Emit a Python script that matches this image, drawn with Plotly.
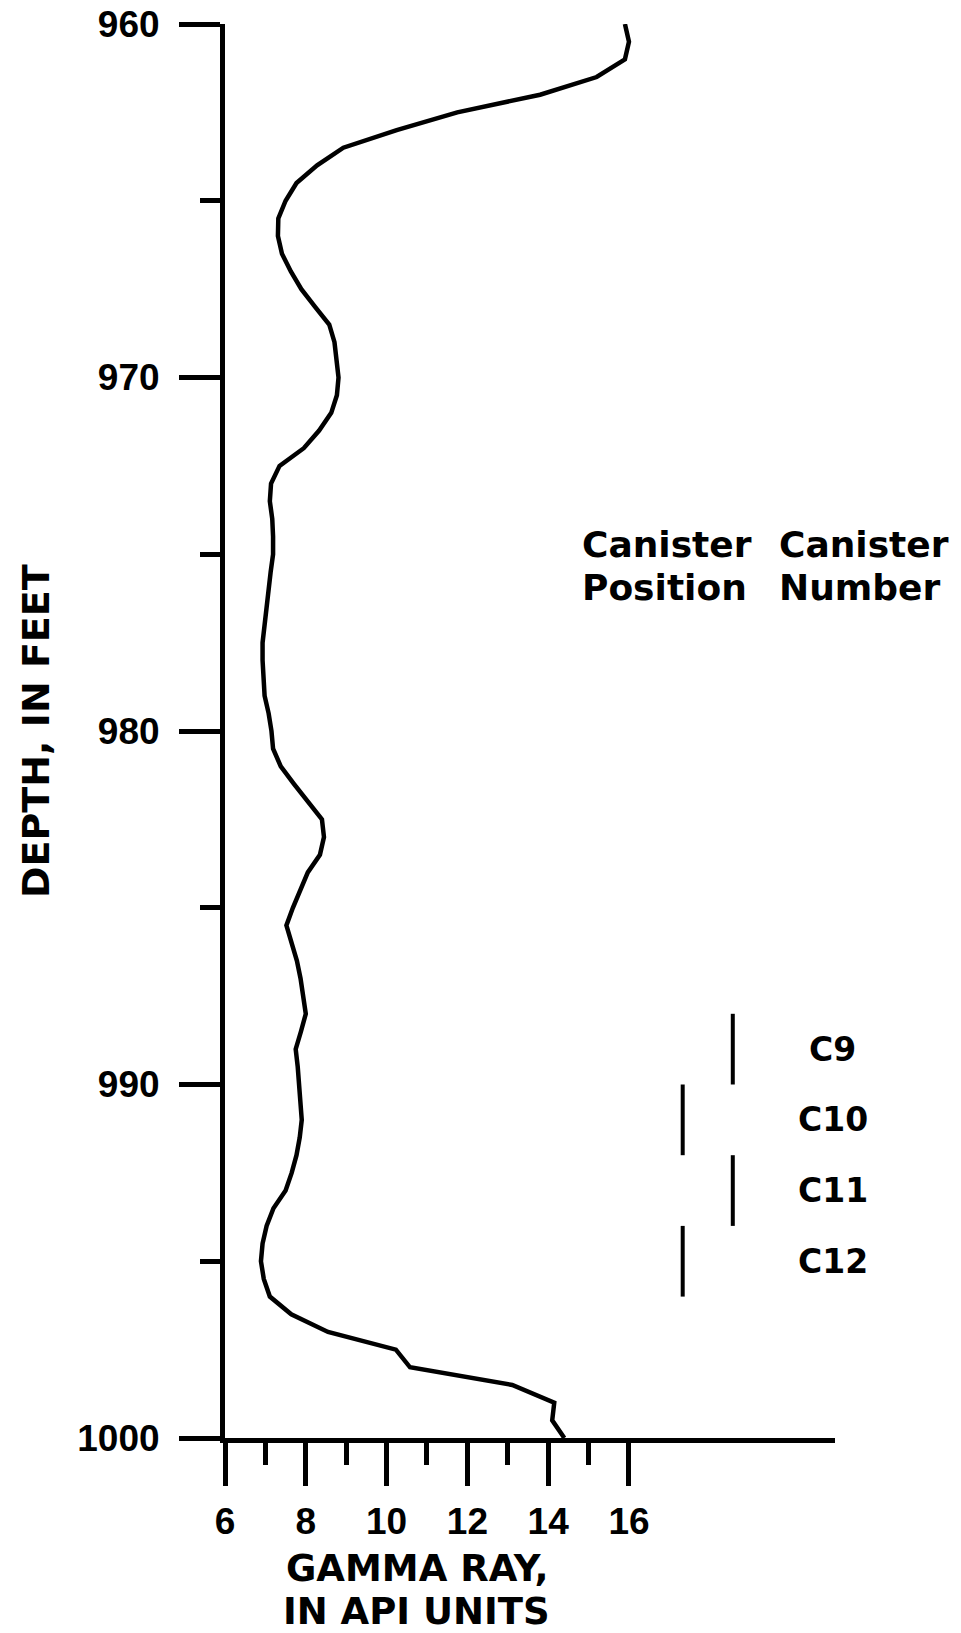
import plotly.graph_objects as go

# ---- data ----
depth_ft = [
    960.0, 960.5, 961.0, 961.5, 962.0, 962.5, 963.0, 963.5, 964.0, 964.5,
    965.0, 965.5, 966.0, 966.5, 967.0, 967.5, 968.0, 968.5, 969.0, 969.5,
    970.0, 970.5, 971.0, 971.5, 972.0, 972.5, 973.0, 973.5, 974.0, 974.5,
    975.0, 975.5, 976.0, 976.5, 977.0, 977.5, 978.0, 978.5, 979.0, 979.5,
    980.0, 980.5, 981.0, 981.5, 982.0, 982.5, 983.0, 983.5, 984.0, 984.5,
    985.0, 985.5, 986.0, 986.5, 987.0, 987.5, 988.0, 988.5, 989.0, 989.5,
    990.0, 990.5, 991.0, 991.5, 992.0, 992.5, 993.0, 993.5, 994.0, 994.5,
    995.0, 995.5, 996.0, 996.5, 997.0, 997.5, 998.0, 998.5, 999.0, 999.5,
    1000.0,
]
gamma_api = [
    15.9, 16.0, 15.9, 15.2, 13.8, 11.75, 10.25, 8.93, 8.28, 7.77,
    7.5, 7.32, 7.31, 7.41, 7.63, 7.89, 8.23, 8.58, 8.71, 8.75,
    8.81, 8.77, 8.63, 8.33, 7.95, 7.35, 7.14, 7.11, 7.17, 7.19,
    7.19, 7.13, 7.08, 7.04, 6.98, 6.93, 6.93, 6.95, 6.98, 7.08,
    7.15, 7.19, 7.38, 7.71, 8.05, 8.4, 8.45, 8.35, 8.05, 7.85,
    7.68, 7.52, 7.65, 7.78, 7.87, 7.93, 8.0, 7.88, 7.75, 7.8,
    7.83, 7.87, 7.9, 7.85, 7.77, 7.65, 7.5, 7.2, 7.03, 6.93,
    6.89, 6.96, 7.11, 7.64, 8.55, 10.23, 10.58, 13.11, 14.15, 14.1,
    14.4,
]

canister_names = ["C9", "C10", "C11", "C12"]
canister_top = [988, 990, 992, 994]
canister_bottom = [990, 992, 994, 996]

x_major_ticks = [6, 8, 10, 12, 14, 16]
x_minor_ticks = [7, 9, 11, 13, 15]
y_major_ticks = [960, 970, 980, 990, 1000]
y_minor_ticks = [965, 975, 985, 995]

x_title_lines = ["GAMMA RAY,", "IN API UNITS"]
y_title = "DEPTH, IN FEET"
header_col1 = ["Canister", "Position"]
header_col2 = ["Canister", "Number"]

# ---- style / layout constants ----
FONT = "DejaVu Sans, Liberation Sans, Arial, sans-serif"
TICK_FONT = "Liberation Sans, Arial, Helvetica, sans-serif"
X_RANGE = [6, 21.1]
Y_RANGE = [1000, 960]
COL_X = [18.57, 17.33]          # alternating canister bar columns
LABEL_X = 21.05

FIG_W, FIG_H = 961, 1633
M_L, M_R, M_T, M_B = 225, 126, 24, 195
PLOT_H = FIG_H - M_T - M_B
PLOT_W = FIG_W - M_L - M_R

fig = go.Figure()

fig.add_trace(go.Scatter(
    x=gamma_api, y=depth_ft, mode="lines",
    line=dict(color="black", width=4.5),
    showlegend=False, hoverinfo="skip", cliponaxis=False,
))

for i, name in enumerate(canister_names):
    cx = COL_X[i % 2]
    fig.add_trace(go.Scatter(
        x=[cx, cx], y=[canister_top[i], canister_bottom[i]], mode="lines",
        line=dict(color="black", width=4),
        showlegend=False, hoverinfo="skip",
    ))
    fig.add_annotation(
        x=LABEL_X, y=(canister_top[i] + canister_bottom[i]) / 2,
        xref="x", yref="y", text=name, showarrow=False,
        xanchor="center", yanchor="middle",
        font=dict(family=FONT, size=33, color="black", weight="bold"),
    )

# header texts
hdr_font = dict(family=FONT, size=36, color="black", weight="bold")
for col_x, words in ((14.79, header_col1), (19.66, header_col2)):
    for depth, w in zip((974.72, 975.95), words):
        fig.add_annotation(
            x=col_x, y=depth, xref="x", yref="y", text=w, showarrow=False,
            xanchor="left", yanchor="middle", font=hdr_font,
        )

# axis titles (pixel centres converted to paper fractions)
ttl_font = dict(family=FONT, size=37, color="black", weight="bold")
plot_bottom = FIG_H - M_B
for ypix, line in zip((1568, 1611), x_title_lines):
    fig.add_annotation(
        x=10.75, y=(plot_bottom - ypix) / PLOT_H,
        xref="x", yref="paper",
        text=line, showarrow=False, xanchor="center", yanchor="middle",
        font=ttl_font,
    )
fig.add_annotation(
    x=(36 - M_L) / PLOT_W, y=980.0, xref="paper", yref="y",
    text=y_title, textangle=-90, showarrow=False,
    xanchor="center", yanchor="middle",
    font=dict(family=FONT, size=38, color="black", weight="bold"),
)

tick_font = dict(family=TICK_FONT, size=37, color="black", weight="bold")
fig.update_xaxes(
    range=X_RANGE, showgrid=False, zeroline=False, automargin=False,
    showline=True, linecolor="black", linewidth=5,
    ticks="outside", ticklen=43, tickwidth=5, tickcolor="black",
    tickmode="array", tickvals=x_major_ticks,
    ticktext=[str(v) for v in x_major_ticks],
    tickfont=tick_font, ticklabelstandoff=4, ticklabeloverflow="allow",
    minor=dict(tickmode="array", tickvals=x_minor_ticks, ticks="outside",
               ticklen=22, tickwidth=5, tickcolor="black", showgrid=False),
)
fig.update_yaxes(
    range=Y_RANGE, showgrid=False, zeroline=False, automargin=False,
    showline=True, linecolor="black", linewidth=5,
    ticks="outside", ticklen=41, tickwidth=5, tickcolor="black",
    tickmode="array", tickvals=y_major_ticks,
    ticktext=[str(v) for v in y_major_ticks],
    tickfont=tick_font, ticklabelstandoff=12, ticklabeloverflow="allow",
    minor=dict(tickmode="array", tickvals=y_minor_ticks, ticks="outside",
               ticklen=20, tickwidth=5, tickcolor="black", showgrid=False),
)

fig.update_layout(
    width=FIG_W, height=FIG_H,
    margin=dict(l=M_L, r=M_R, t=M_T, b=M_B, pad=0, autoexpand=False),
    paper_bgcolor="white", plot_bgcolor="white",
    showlegend=False,
)

# remove the default page margin so the figure fills the window exactly
fig.write_html(
    "out.html",
    config={"displayModeBar": False, "staticPlot": True},
    post_script="document.body.style.margin='0';document.body.style.overflow='hidden';",
)
